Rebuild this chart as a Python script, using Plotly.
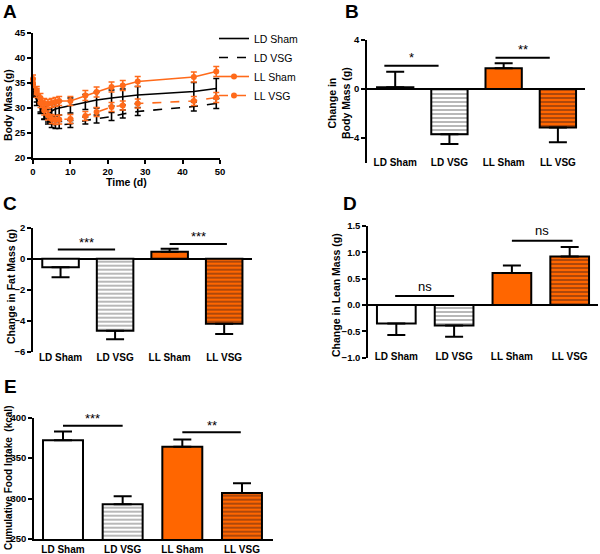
import plotly.graph_objects as go

# ---------------- data ----------------
categories = ["LD Sham", "LD VSG", "LL Sham", "LL VSG"]

time_days = [0, 1, 2, 3, 4, 5, 6, 7, 10, 14, 17, 21, 24, 28, 43, 49]
ld_sham_mass = [33.2, 31.5, 30.0, 29.0, 28.5, 29.4, 29.8, 30.0, 30.5, 31.2, 31.6, 32.0, 32.2, 32.6, 33.3, 33.9]
ld_sham_err = [1.0, 1.0, 1.1, 1.2, 1.3, 1.3, 1.4, 1.4, 1.5, 1.5, 1.6, 1.6, 1.6, 1.7, 1.8, 2.0]
ld_vsg_mass = [34.0, 32.0, 30.0, 28.5, 27.5, 26.8, 26.6, 26.6, 26.8, 27.5, 27.8, 28.3, 28.8, 29.3, 30.3, 30.9]
ld_vsg_err = [0.8, 0.8, 0.8, 0.8, 0.7, 0.7, 0.7, 0.7, 0.7, 0.7, 0.8, 0.8, 0.8, 0.8, 0.9, 1.0]
ll_sham_mass = [35.8, 33.5, 32.0, 31.0, 30.8, 31.0, 31.2, 31.4, 31.4, 32.5, 33.2, 34.2, 34.5, 35.3, 36.2, 37.3]
ll_sham_err = [0.8, 0.8, 0.9, 0.9, 0.9, 0.9, 0.9, 0.9, 0.9, 1.0, 1.0, 1.0, 1.0, 1.0, 1.0, 1.0]
ll_vsg_mass = [35.0, 33.0, 31.0, 29.5, 28.5, 27.8, 27.6, 27.7, 27.8, 28.4, 29.2, 30.2, 30.5, 30.9, 31.4, 32.1]
ll_vsg_err = [0.9, 0.9, 0.9, 0.9, 0.9, 0.9, 0.9, 0.9, 0.9, 0.9, 0.9, 0.9, 0.9, 0.9, 0.9, 1.0]

body_change = [0.15, -3.7, 1.7, -3.15]
body_change_err = [1.25, 0.8, 0.4, 1.2]

fat_change = [-0.55, -4.65, 0.45, -4.2]
fat_change_err = [0.65, 0.55, 0.2, 0.65]

lean_change = [-0.35, -0.39, 0.61, 0.92]
lean_change_err = [0.22, 0.21, 0.14, 0.18]

food_intake = [372, 293, 364, 307]
food_intake_err = [11, 10, 9, 12]

# significance brackets: (x0, x1, y, label)
sig_body = [(-0.2, 0.8, 1.9, "*"), (1.85, 2.85, 2.55, "**")]
sig_fat = [(-0.05, 1.0, 0.6, "***"), (2.0, 3.05, 0.95, "***")]
sig_lean = [(-0.02, 1.0, 0.17, "ns"), (2.0, 3.05, 1.22, "ns")]
sig_food = [(0.0, 1.0, 390, "***"), (2.0, 2.98, 382, "**")]

# ---------------- style ----------------
W, H = 600, 554
ORANGE = "#FF6600"
ORANGE_LINE = "#FF6A1A"
FONT = "Liberation Sans"


def px_x(p):
    return p / W


def px_y(p):
    return 1 - p / H


fig = go.Figure()

# ---------- Panel A ----------
series = [
    ("LD Sham", ld_sham_mass, ld_sham_err, "black", "solid", False),
    ("LD VSG", ld_vsg_mass, ld_vsg_err, "black", "dash", False),
    ("LL Sham", ll_sham_mass, ll_sham_err, ORANGE_LINE, "solid", True),
    ("LL VSG", ll_vsg_mass, ll_vsg_err, ORANGE_LINE, "dash", True),
]
for name, vals, errs, col, dash, mk in series:
    fig.add_trace(go.Scatter(
        x=time_days, y=vals, name=name, xaxis="x", yaxis="y",
        mode="lines+markers" if mk else "lines",
        line=dict(color=col, width=1.6, dash=dash),
        marker=dict(color=col, size=6, symbol="circle"),
        error_y=dict(type="data", array=errs, color=col, thickness=1.6, width=3),
        cliponaxis=False,
    ))


def bar_traces(xa, ya, vals, errs):
    pats = [
        dict(color="white", pattern=None),
        dict(color="white", pattern=dict(shape="-", size=4, solidity=0.35, fgcolor="#9a9a9a", bgcolor="white", fillmode="replace")),
        dict(color=ORANGE, pattern=None),
        dict(color=ORANGE, pattern=dict(shape="-", size=4, solidity=0.35, fgcolor="#8a3a10", bgcolor=ORANGE, fillmode="replace")),
    ]
    for i, c in enumerate(categories):
        v = vals[i]
        e = errs[i]
        up = [e] if v >= 0 else [0]
        dn = [0] if v >= 0 else [e]
        mk = dict(color=pats[i]["color"], line=dict(color="black", width=2))
        if pats[i]["pattern"] is not None:
            mk["pattern"] = pats[i]["pattern"]
        fig.add_trace(go.Bar(
            x=[c], y=[v], xaxis=xa, yaxis=ya, width=0.67, marker=mk,
            error_y=dict(type="data", symmetric=False, array=up, arrayminus=dn,
                         color="black", thickness=2, width=9),
            showlegend=False,
        ))


bar_traces("x2", "y2", body_change, body_change_err)
bar_traces("x3", "y3", fat_change, fat_change_err)
bar_traces("x4", "y4", lean_change, lean_change_err)
bar_traces("x5", "y5", food_intake, food_intake_err)

tickfont = dict(family=FONT, size=9.5, color="black", weight="bold")
catfont = dict(family=FONT, size=10, color="black", weight="bold")

common_y = dict(showgrid=False, showline=True, linecolor="black", linewidth=1.5,
                ticks="outside", ticklen=4, tickwidth=1.5, tickcolor="black",
                tickfont=tickfont, automargin=False)
common_xcat = dict(showgrid=False, showline=False, ticks="", tickfont=catfont, automargin=False,
                   type="category", categoryorder="array", categoryarray=categories)

fig.update_layout(
    width=W, height=H, margin=dict(l=0, r=0, t=0, b=0, autoexpand=False),
    paper_bgcolor="white", plot_bgcolor="white",
    barmode="overlay", showlegend=True,
    font=dict(family=FONT, color="black"),
    legend=dict(x=px_x(214), y=px_y(24), xanchor="left", yanchor="top",
                font=dict(family=FONT, size=10.5, color="black"),
                bgcolor="rgba(0,0,0,0)", itemwidth=30, tracegroupgap=0),
    # A
    xaxis=dict(domain=[px_x(33), px_x(220)], range=[0, 50], tickvals=[0, 10, 20, 30, 40, 50],
               showgrid=False, showline=True, linecolor="black", linewidth=1.5,
               ticks="outside", ticklen=4, tickwidth=1.5, tickcolor="black",
               tickfont=tickfont, anchor="y", zeroline=False, automargin=False),
    yaxis=dict(domain=[px_y(158), px_y(33)], range=[20, 45], tickvals=[20, 25, 30, 35, 40, 45],
               anchor="x", zeroline=False, **common_y),
    # B
    xaxis2=dict(domain=[px_x(367), px_x(585)], range=[-0.52, 3.5], anchor="free",
                position=px_y(155), **common_xcat),
    yaxis2=dict(domain=[px_y(162.5), px_y(40)], range=[-6, 4], tickvals=[-4, 0, 4],
                anchor="x2", zeroline=True, zerolinecolor="black", zerolinewidth=1.5, **common_y),
    # C
    xaxis3=dict(domain=[px_x(33), px_x(252)], range=[-0.505, 3.51], anchor="free",
                position=px_y(350), **common_xcat),
    yaxis3=dict(domain=[px_y(351.7), px_y(227.7)], range=[-6, 2], tickvals=[-6, -4, -2, 0, 2],
                anchor="x3", zeroline=True, zerolinecolor="black", zerolinewidth=1.5, **common_y),
    # D
    xaxis4=dict(domain=[px_x(368), px_x(598)], range=[-0.49, 3.49], anchor="free",
                position=px_y(349), **common_xcat),
    yaxis4=dict(domain=[px_y(357.7), px_y(226)], range=[-1.0, 1.5],
                tickvals=[-1.0, -0.5, 0.0, 0.5, 1.0, 1.5], tickformat=".1f",
                anchor="x4", zeroline=True, zerolinecolor="black", zerolinewidth=1.5, **common_y),
    # E
    xaxis5=dict(domain=[px_x(34), px_x(273)], range=[-0.486, 3.52], anchor="y5",
                showgrid=False, showline=True, linecolor="black", linewidth=1.5, ticks="",
                tickfont=catfont, type="category", categoryorder="array", categoryarray=categories,
                automargin=False),
    yaxis5=dict(domain=[px_y(539), px_y(417.7)], range=[250, 400], tickvals=[250, 300, 350, 400],
                anchor="x5", zeroline=False, **common_y),
)

# significance brackets
for xa, ya, sigs, yshift in [("x2", "y2", sig_body, 8), ("x3", "y3", sig_fat, 7),
                             ("x4", "y4", sig_lean, 10), ("x5", "y5", sig_food, 7)]:
    for x0, x1, yv, lab in sigs:
        fig.add_shape(type="line", xref=xa, yref=ya, x0=x0, x1=x1, y0=yv, y1=yv,
                      line=dict(color="black", width=2))
        fig.add_annotation(xref=xa, yref=ya, x=(x0 + x1) / 2, y=yv, text=lab, showarrow=False,
                           yshift=yshift, xanchor="center", yanchor="middle",
                           font=dict(family=FONT, size=13, color="black"))

# panel letters
for lab, x, y in [("A", 10, 12), ("B", 352, 12), ("C", 10, 203), ("D", 350, 203), ("E", 10, 386)]:
    fig.add_annotation(xref="paper", yref="paper", x=px_x(x), y=px_y(y), text=lab, showarrow=False,
                       xanchor="center", yanchor="middle", borderpad=0,
                       font=dict(family=FONT, size=19, color="black", weight="bold"))

# axis titles
titlefont = dict(family=FONT, size=10.5, color="black", weight="bold")
fig.add_annotation(xref="paper", yref="paper", x=px_x(126), y=px_y(182), text="Time (d)",
                   showarrow=False, xanchor="center", yanchor="middle", font=titlefont)
for txt, x, y, fs in [("Body Mass (g)", 8, 105, 10.5), ("Change in<br>Body Mass (g)", 339, 103, 10.5),
                      ("Change in Fat Mass (g)", 11, 287, 10.5), ("Change in Lean Mass (g)", 336, 295, 10.5),
                      ("Cumulative Food Intake  (kcal)", 8, 478, 10)]:
    fig.add_annotation(xref="paper", yref="paper", x=px_x(x), y=px_y(y), text=txt, textangle=-90,
                       showarrow=False, xanchor="center", yanchor="middle",
                       font=dict(family=FONT, size=fs, color="black", weight="bold"))

fig.write_html("out.html", config={"displayModeBar": False},
               post_script="document.body.style.margin='0px';")
